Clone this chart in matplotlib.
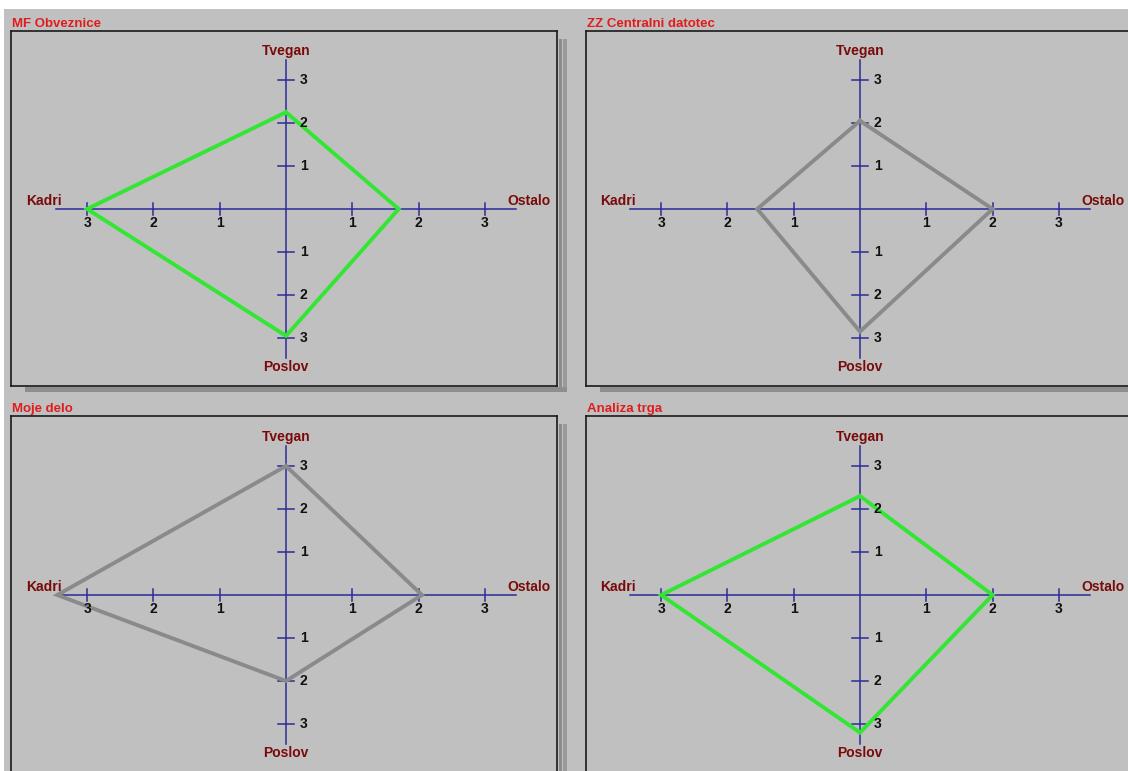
import matplotlib.pyplot as plt
from matplotlib.patches import Rectangle

# radar axes, in drawing order (top, right, bottom, left)
axis_names = ["Tvegan", "Ostalo", "Poslov", "Kadri"]
tick_values = [1, 2, 3]

titles = ["MF Obveznice", "ZZ Centralni datotec", "Moje delo", "Analiza trga"]
mf_obveznice = [2.25, 1.7, 2.95, 3.0]
zz_centralni = [2.05, 2.0, 2.85, 1.55]
moje_delo = [3.0, 2.05, 2.0, 3.45]
analiza_trga = [2.3, 2.0, 3.2, 3.0]
series = [mf_obveznice, zz_centralni, moje_delo, analiza_trga]
line_colors = ["#33e633", "#8a8a8a", "#8a8a8a", "#33e633"]

W, H = 1128, 771
BG = "#c0c0c0"
AXIS_BLUE = "#2b2b9a"
LABEL_RED = "#7a0a0a"
TITLE_RED = "#e01c1c"
SX, SY = 66.3, 43.0     # pixels per unit
AX_END = 3.47

# panel boxes in pixels: left, top, right, bottom, centre x, centre y
boxes = [
    (11, 31, 557, 386, 286, 209),
    (586, 31, 1135, 386, 860, 209),
    (11, 416, 557, 780, 286, 595),
    (586, 416, 1135, 780, 860, 595),
]

fig = plt.figure(figsize=(W / 100, H / 100), dpi=100, facecolor=BG)


def px_rect(x0, y0, x1, y1, color):
    fig.patches.append(Rectangle((x0 / W, 1 - y1 / H), (x1 - x0) / W, (y1 - y0) / H,
                                 transform=fig.transFigure, facecolor=color,
                                 edgecolor="none", zorder=0))


# white window edges
px_rect(0, 0, W, 9, "white")
px_rect(0, 0, 4, H, "white")

font = "Liberation Sans"

for k, (l, t, r, b, cx, cy) in enumerate(boxes):
    # drop shadows
    if r < W:
        px_rect(r + 2, t + 8, r + 5, b + 6, "#8c8c8c")
        px_rect(r + 6, t + 8, r + 10, b + 6, "#9a9a9a")
    px_rect(l + 14, b + 1, min(r + 10, W), b + 6, "#8e8e8e")

    ax = fig.add_axes([l / W, 1 - b / H, (r - l) / W, (b - t) / H])
    ax.set_facecolor(BG)
    ax.set_xlim((l - cx) / SX, (r - cx) / SX)
    ax.set_ylim((cy - b) / SY, (cy - t) / SY)
    ax.set_xticks([])
    ax.set_yticks([])
    for s in ax.spines.values():
        s.set_color("#1a1a1a")
        s.set_linewidth(1.2)

    fig.text(l / W + 1 / W, 1 - (t - 7) / H, titles[k], color=TITLE_RED,
             fontsize=9.5, fontweight="bold", family=font, va="center", ha="left")

    # cross axes
    ax.plot([-AX_END, AX_END], [0, 0], color=AXIS_BLUE, lw=1.1, zorder=2)
    ax.plot([0, 0], [-AX_END, AX_END], color=AXIS_BLUE, lw=1.1, zorder=2)
    tx, ty = 7 / SY, 8 / SX
    for v in tick_values:
        for sgn in (-1, 1):
            ax.plot([sgn * v, sgn * v], [-tx * 0.9, tx * 0.9], color=AXIS_BLUE, lw=1.1, zorder=2)
            ax.plot([-ty, ty], [sgn * v, sgn * v], color=AXIS_BLUE, lw=1.1, zorder=2)
            ax.annotate(str(v), (sgn * v, 0), xytext=(0, -10), textcoords="offset points",
                        ha="center", va="center", fontsize=10, fontweight="bold",
                        family=font, color="#111111", zorder=4)
            ax.annotate(str(v), (0, sgn * v), xytext=(10, 0), textcoords="offset points",
                        ha="left", va="center", fontsize=10, fontweight="bold",
                        family=font, color="#111111", zorder=4)

    lab = dict(fontsize=10, fontweight="bold", family=font, color=LABEL_RED,
               textcoords="offset points", zorder=4)
    ax.annotate(axis_names[0], (0, AX_END), xytext=(0, 6.5), ha="center", va="center", **lab)
    ax.annotate(axis_names[2], (0, -AX_END), xytext=(0, -6.5), ha="center", va="center", **lab)
    ax.annotate(axis_names[1], (AX_END, 0), xytext=(-6, 5.5), ha="left", va="center", **lab)
    ax.annotate(axis_names[3], (-AX_END, 0), xytext=(4, 5.5), ha="right", va="center", **lab)

    # radar polygon
    vals = series[k]
    xs = [0, vals[1], 0, -vals[3], 0]
    ys = [vals[0], 0, -vals[2], 0, vals[0]]
    ax.plot(xs, ys, color=line_colors[k], lw=2.8, zorder=3, solid_joinstyle="miter")

fig.savefig("out.png", dpi=100, facecolor=BG)
